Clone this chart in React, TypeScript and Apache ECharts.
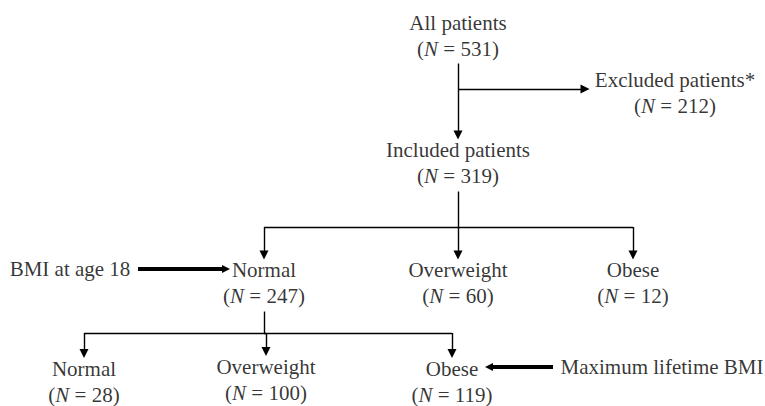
import React, { useEffect, useRef } from "react";
import * as echarts from "echarts";

// ---- data ----
const nodeNames = [
  "All patients",
  "Excluded patients*",
  "Included patients",
  "Normal",
  "Overweight",
  "Obese",
  "Normal",
  "Overweight",
  "Obese",
];
const nodeCounts = [531, 212, 319, 247, 60, 12, 28, 100, 119];
const sideLabels = ["BMI at age 18", "Maximum lifetime BMI"];

// ---- layout (positions in pixel space of the 765x406 canvas) ----
const nodeX = [458, 675, 458, 264, 458, 633, 84, 266, 452];
const nodeY = [36, 93, 163, 283, 283, 283, 381.5, 379.5, 381.5];
const sideX = [70, 662];
const sideY = [269, 367];

const W = 765;
const H = 406;
const FONT = "Liberation Serif";
const FS = 21;
const LH = 26;

const top = (i: number) => nodeY[i] - LH - 2;
const bottom = (i: number) => nodeY[i] + LH + 2.5;

type Pt = number[];
// returns list of segments; last one carries the arrow
function route(from: number, to: number, branchY: number): Pt[][] {
  const x0 = nodeX[from];
  const x1 = nodeX[to];
  if (x0 === x1) return [[[x0, bottom(from)], [x1, top(to)]]];
  return [
    [[x0, branchY], [x1, branchY]],
    [[x1, branchY], [x1, top(to)]],
  ];
}

export default function App() {
  const ref = useRef<HTMLDivElement>(null);
  useEffect(() => {
    if (!ref.current) return;
    const chart = echarts.init(ref.current, undefined, { renderer: "svg" });

    const routes: Pt[][][] = [
      [[[nodeX[0], bottom(0) - 1], [nodeX[2], top(2)]]],
      [[[nodeX[0], 89], [585, 89]]],
      route(2, 3, 227),
      route(2, 4, 227),
      route(2, 5, 227),
      [[[nodeX[3], bottom(3)], [nodeX[3], 333]]],
      route(3, 7, 333),
      route(3, 6, 333),
      route(3, 8, 333),
    ];
    const plain: any[] = [];
    const arrows: any[] = [];
    routes.forEach((r, ri) => {
      r.forEach((seg, si) => {
        const isLast = si === r.length - 1 && ri !== 5;
        (isLast ? arrows : plain).push({ coords: seg });
      });
    });
    const thick = [
      { coords: [[138, sideY[0]], [226, sideY[0]]] },
      { coords: [[553, sideY[1]], [489, sideY[1]]] },
    ];

    const lineBase = {
      type: "lines",
      coordinateSystem: "cartesian2d",
      silent: true,
    };

    chart.setOption({
      animation: false,
      grid: { left: 0, right: 0, top: 0, bottom: 0 },
      xAxis: { type: "value", min: 0, max: W, show: false },
      yAxis: { type: "value", min: 0, max: H, inverse: true, show: false },
      series: [
        {
          ...lineBase,
          symbol: ["none", "none"],
          lineStyle: { color: "#000", width: 1.4, opacity: 1 },
          data: plain,
        },
        {
          ...lineBase,
          symbol: ["none", "triangle"],
          symbolSize: [9, 9],
          lineStyle: { color: "#000", width: 1.4, opacity: 1 },
          data: arrows,
        },
        {
          ...lineBase,
          symbol: ["none", "triangle"],
          symbolSize: [9, 8],
          lineStyle: { color: "#000", width: 4, opacity: 1 },
          data: thick,
        },
        {
          type: "scatter",
          symbolSize: 0,
          silent: true,
          data: nodeNames.map((n, i) => ({
            value: [nodeX[i], nodeY[i]],
            name: n,
          })),
          label: {
            show: true,
            position: "inside",
            color: "#000",
            fontFamily: FONT,
            fontSize: FS,
            lineHeight: LH,
            align: "center",
            formatter: (p: any) =>
              `{a|${p.name}}\n{b|(}{i|N}{b| = ${nodeCounts[p.dataIndex]})}`,
            rich: {
              a: { fontFamily: FONT, fontSize: FS, lineHeight: LH, color: "#000" },
              b: { fontFamily: FONT, fontSize: FS, lineHeight: LH, color: "#000" },
              i: {
                fontFamily: FONT,
                fontSize: FS,
                lineHeight: LH,
                fontStyle: "italic",
                color: "#000",
              },
            },
          },
        },
        {
          type: "scatter",
          symbolSize: 0,
          silent: true,
          data: sideLabels.map((n, i) => ({ value: [sideX[i], sideY[i]], name: n })),
          label: {
            show: true,
            position: "inside",
            color: "#000",
            fontFamily: FONT,
            fontSize: FS,
            formatter: (p: any) => p.name,
          },
        },
      ],
    });
    return () => chart.dispose();
  }, []);
  return (
    <div
      ref={ref}
      style={{ position: "fixed", left: 0, top: 0, width: W, height: H, background: "#fff" }}
    />
  );
}
